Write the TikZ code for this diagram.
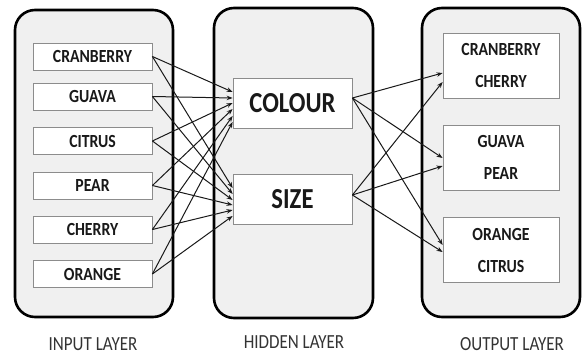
\documentclass[tikz,border=0pt]{standalone}
\usepackage{fontspec}
\setmainfont{Carlito}[FakeStretch=0.85]
\usetikzlibrary{arrows.meta}
\tikzset{
  layer/.style={draw=black, line width=2.6pt, rounded corners=20pt, fill=black!6},
  item/.style={draw=black!45, line width=0.8pt, fill=white, inner sep=0pt,
    minimum width=119pt, minimum height=27pt, font=\bfseries\fontsize{18.5}{20}\selectfont, text=black!90},
  hid/.style={item, minimum height=50pt, font=\bfseries\fontsize{29}{30}\selectfont},
  outb/.style={item, minimum width=116pt, minimum height=65pt, align=center,
    font=\bfseries\fontsize{18.5}{32}\selectfont},
  link/.style={-{Stealth[length=6pt,width=4.5pt]}, line width=1pt, black!90},
  lbl/.style={font=\fontsize{20}{20}\selectfont, text=black!80, anchor=base}
}
\begin{document}
\begin{tikzpicture}[x=1pt,y=-1pt]
\useasboundingbox (0,0) rectangle (582,354);
% layer frames
\draw[layer] (15,10) rectangle (173,317);
\draw[layer] (214,8) rectangle (373,318);
\draw[layer] (422,8) rectangle (580,317);
% input nodes
\node[item] (cran) at (92.5,56.5) {CRANBERRY};
\node[item] (guav) at (92.5,96.5) {GUAVA};
\node[item] (citr) at (92.5,141) {CITRUS};
\node[item] (pear) at (92.5,185.5) {PEAR};
\node[item] (cher) at (92.5,229.5) {CHERRY};
\node[item] (oran) at (92.5,274) {ORANGE};
% hidden nodes
\node[hid] (colour) at (292.5,103.5) {COLOUR};
\node[hid] (size) at (292.5,199) {SIZE};
% output nodes
\node[outb] (o1) at (501,65.5) {CRANBERRY\\CHERRY};
\node[outb] (o2) at (501,157.5) {GUAVA\\PEAR};
\node[outb] (o3) at (501,250) {ORANGE\\CITRUS};
% input -> hidden
\draw[link] (cran.east) -- ([yshift=11.5pt]colour.west);
\draw[link] (guav.east) -- ([yshift=5.5pt]colour.west);
\draw[link] (citr.east) -- ([yshift=0.5pt]colour.west);
\draw[link] (pear.east) -- ([yshift=-5.5pt]colour.west);
\draw[link] (cher.east) -- ([yshift=-12.5pt]colour.west);
\draw[link] (oran.east) -- ([yshift=-18.5pt]colour.west);
\draw[link] (cran.east) -- ([yshift=11pt]size.west);
\draw[link] (guav.east) -- ([yshift=5pt]size.west);
\draw[link] (citr.east) -- ([yshift=-1pt]size.west);
\draw[link] (pear.east) -- ([yshift=-6pt]size.west);
\draw[link] (cher.east) -- ([yshift=-11pt]size.west);
\draw[link] (oran.east) -- ([yshift=-17pt]size.west);
% hidden -> output
\draw[link] ([yshift=5.5pt]colour.east) -- ([yshift=-7.5pt]o1.west);
\draw[link] ([yshift=5.5pt]colour.east) -- ([yshift=-0.5pt]o2.west);
\draw[link] ([yshift=5.5pt]colour.east) -- ([yshift=5pt]o3.west);
\draw[link] ([yshift=4pt]size.east) -- ([yshift=-16.5pt]o1.west);
\draw[link] ([yshift=4pt]size.east) -- ([yshift=-8.5pt]o2.west);
\draw[link] ([yshift=4pt]size.east) -- ([yshift=-2pt]o3.west);
% labels
\node[lbl] (lin) at (93,350) {INPUT LAYER};
\node[lbl] (lhid) at (294,348) {HIDDEN LAYER};
\node[lbl] (lout) at (512,350) {OUTPUT LAYER};
\end{tikzpicture}
\end{document}
